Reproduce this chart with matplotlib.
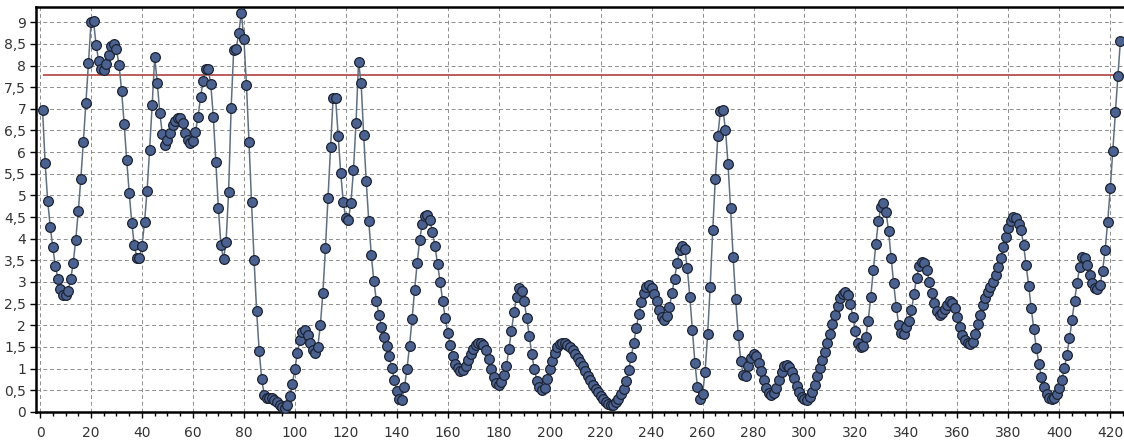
import numpy as np
import matplotlib
matplotlib.use('Agg')
import matplotlib.pyplot as plt
from matplotlib.ticker import MultipleLocator, FuncFormatter

#%% data

values = [
    6.97, 5.74, 4.87, 4.28, 3.80, 3.38, 3.08, 2.83, 2.70, 2.70,
    2.80, 3.06, 3.43, 3.97, 4.63, 5.38, 6.24, 7.14, 8.05, 9.00,
    9.02, 8.47, 8.11, 7.93, 7.90, 8.04, 8.25, 8.45, 8.50, 8.37,
    8.01, 7.42, 6.66, 5.82, 5.06, 4.37, 3.85, 3.56, 3.56, 3.83,
    4.38, 5.11, 6.06, 7.08, 8.20, 7.60, 6.91, 6.42, 6.16, 6.27,
    6.45, 6.62, 6.72, 6.78, 6.78, 6.67, 6.45, 6.28, 6.20, 6.25,
    6.47, 6.82, 7.27, 7.65, 7.92, 7.92, 7.57, 6.82, 5.78, 4.70,
    3.85, 3.53, 3.92, 5.08, 7.03, 8.35, 8.39, 8.76, 9.22, 8.61,
    7.56, 6.24, 4.84, 3.51, 2.33, 1.41, 0.75, 0.39, 0.31, 0.32,
    0.32, 0.28, 0.22, 0.16, 0.11, 0.10, 0.17, 0.36, 0.65, 0.98,
    1.37, 1.65, 1.85, 1.89, 1.78, 1.58, 1.43, 1.37, 1.50, 2.00,
    2.75, 3.78, 4.93, 6.12, 7.24, 7.24, 6.37, 5.52, 4.85, 4.47,
    4.43, 4.83, 5.58, 6.68, 8.07, 7.60, 6.40, 5.33, 4.42, 3.62,
    3.02, 2.57, 2.24, 1.97, 1.74, 1.52, 1.29, 1.02, 0.74, 0.48,
    0.30, 0.28, 0.57, 0.99, 1.52, 2.14, 2.82, 3.43, 3.98, 4.34,
    4.52, 4.55, 4.43, 4.15, 3.82, 3.42, 3.01, 2.57, 2.18, 1.83,
    1.55, 1.29, 1.11, 1.01, 0.95, 0.97, 1.06, 1.20, 1.34, 1.45,
    1.55, 1.60, 1.60, 1.55, 1.42, 1.22, 1.00, 0.80, 0.66, 0.63,
    0.70, 0.85, 1.05, 1.45, 1.87, 2.30, 2.65, 2.86, 2.80, 2.55,
    2.18, 1.75, 1.33, 0.98, 0.72, 0.58, 0.51, 0.56, 0.75, 0.98,
    1.18, 1.35, 1.49, 1.57, 1.60, 1.59, 1.55, 1.49, 1.42, 1.34,
    1.25, 1.15, 1.05, 0.94, 0.84, 0.73, 0.63, 0.54, 0.45, 0.37,
    0.30, 0.24, 0.19, 0.17, 0.17, 0.22, 0.30, 0.41, 0.54, 0.72,
    0.96, 1.27, 1.60, 1.93, 2.27, 2.54, 2.75, 2.89, 2.92, 2.85,
    2.72, 2.55, 2.35, 2.20, 2.12, 2.22, 2.42, 2.74, 3.08, 3.43,
    3.74, 3.83, 3.76, 3.33, 2.66, 1.89, 1.14, 0.57, 0.30, 0.41,
    0.93, 1.80, 2.89, 4.20, 5.37, 6.37, 6.95, 6.98, 6.52, 5.72,
    4.70, 3.58, 2.60, 1.78, 1.18, 0.85, 0.82, 1.05, 1.24, 1.34,
    1.29, 1.12, 0.95, 0.74, 0.55, 0.43, 0.39, 0.43, 0.56, 0.74,
    0.93, 1.05, 1.08, 1.03, 0.93, 0.78, 0.60, 0.47, 0.35, 0.29,
    0.28, 0.34, 0.45, 0.62, 0.82, 1.02, 1.20, 1.38, 1.58, 1.80,
    2.02, 2.24, 2.45, 2.62, 2.73, 2.76, 2.70, 2.50, 2.20, 1.86,
    1.60, 1.50, 1.52, 1.72, 2.10, 2.65, 3.27, 3.87, 4.40, 4.73,
    4.82, 4.62, 4.18, 3.56, 2.97, 2.43, 2.01, 1.82, 1.80, 1.95,
    2.10, 2.35, 2.72, 3.10, 3.37, 3.47, 3.43, 3.28, 3.00, 2.74,
    2.51, 2.32, 2.24, 2.28, 2.37, 2.47, 2.55, 2.51, 2.39, 2.20,
    1.97, 1.78, 1.66, 1.58, 1.56, 1.62, 1.80, 2.03, 2.24, 2.47,
    2.62, 2.78, 2.89, 3.01, 3.16, 3.35, 3.55, 3.80, 4.03, 4.24,
    4.42, 4.51, 4.47, 4.35, 4.20, 3.85, 3.39, 2.91, 2.39, 1.91,
    1.47, 1.11, 0.80, 0.57, 0.42, 0.32, 0.29, 0.33, 0.41, 0.55,
    0.74, 1.01, 1.32, 1.70, 2.12, 2.57, 2.98, 3.35, 3.58, 3.55,
    3.39, 3.16, 2.97, 2.85, 2.83, 2.93, 3.26, 3.74, 4.39, 5.16,
    6.03, 6.93, 7.76, 8.57,
]
x = np.arange(1, len(values) + 1)

threshold = 7.77   # limit line

x_min, x_max = -1.6, 425.4
y_min, y_max = 0, 9.35

#%% plot

fig = plt.figure(figsize=(11.24, 4.41), dpi=100)
ax = fig.add_axes([0.032, 0.066, 0.968, 0.918])

ax.plot(x, values, '-', color='#5f6f80', lw=1.1, zorder=3)
ax.plot(x, values, 'o', ms=7.0, mfc='#4b6290', mec='#1c2333', mew=0.9, zorder=4)
ax.hlines(threshold, x[0], x_max, colors='#b5504e', lw=1.3, zorder=2)

ax.set_xlim(x_min, x_max)
ax.set_ylim(y_min, y_max)

ax.xaxis.set_major_locator(MultipleLocator(20))
ax.xaxis.set_minor_locator(MultipleLocator(5))
ax.yaxis.set_major_locator(MultipleLocator(0.5))
ax.yaxis.set_major_formatter(FuncFormatter(lambda v, p: ('%g' % v).replace('.', ',')))

ax.grid(True, which='major', ls=(0, (4, 3)), color='#8e8e8e', lw=0.7)
ax.set_axisbelow(True)

ax.tick_params(axis='both', which='major', labelsize=10, labelcolor='#333333', length=4, width=1)
ax.tick_params(axis='x', which='minor', length=3, width=1)
ax.tick_params(axis='x', pad=6)
ax.tick_params(axis='y', pad=3)

for side in ['left', 'bottom', 'top']:
    ax.spines[side].set_linewidth(1.8)
ax.spines['right'].set_visible(False)

plt.savefig('out.png', dpi=100)
